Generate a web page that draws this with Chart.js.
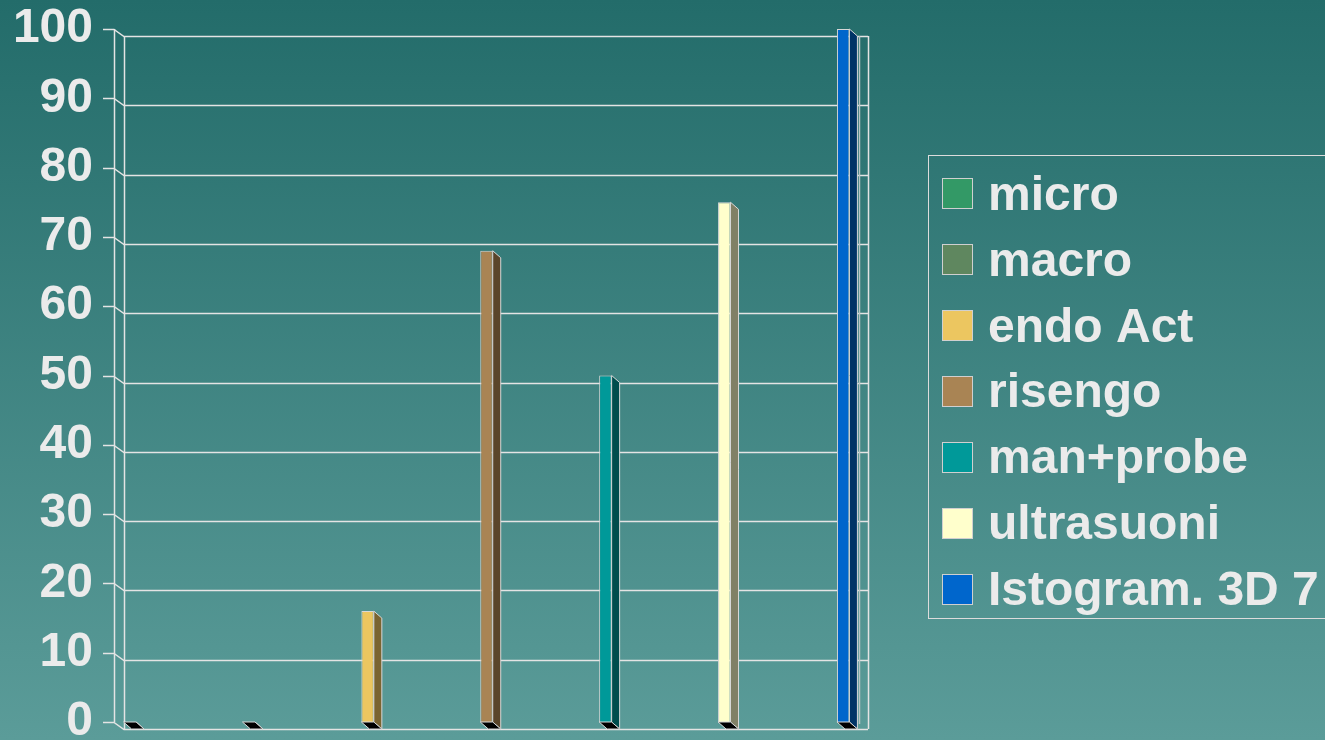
<!DOCTYPE html>
<html>
<head>
<meta charset="utf-8">
<script src="https://cdn.jsdelivr.net/npm/chart.js@4"></script>
<style>
  html, body { margin: 0; padding: 0; overflow: hidden; }
  body { width: 1325px; height: 740px; background: linear-gradient(#236c6a, #5b9c99); }
  canvas { display: block; }
</style>
</head>
<body>
<canvas id="chart" width="1325" height="740"></canvas>
<script>
// series (one bar each, Excel style 3D columns)
let seriesNames = ["micro", "macro", "endo Act", "risengo", "man+probe", "ultrasuoni", "Istogram. 3D 7"];
let seriesValues = [0, 0, 16, 68, 50, 75, 100];
let frontColors = ["#339966", "#5f875f", "#ecc660", "#a98454", "#009999", "#ffffcc", "#0066cc"];
let sideColors = ["#1a4d33", "#304430", "#7a6431", "#5a452a", "#004d4d", "#808066", "#003366"];
let categories = seriesNames;
let yTicks = { min: 0, max: 100, step: 10 };

const lineCol = "#e4e4e4";
const depthX = 8, depthY = 7;   // bar depth
const wallX = 10, wallY = 7;    // back wall offset

// each series only has a value in its own category
const datasets = seriesNames.map((name, i) => ({
  label: name,
  data: categories.map((c, j) => (i === j ? seriesValues[i] : null)),
  backgroundColor: frontColors[i],
  borderColor: "#d8d8d8",
  borderWidth: 1,
  sideColor: sideColors[i]
}));

// walls + gridlines behind bars
const walls = {
  id: "walls",
  beforeDatasetsDraw(chart) {
    const { ctx, chartArea: a, scales: { y } } = chart;
    ctx.save();
    ctx.strokeStyle = lineCol;
    ctx.lineWidth = 1.5;
    y.ticks.forEach(t => {
      const py = Math.round(y.getPixelForValue(t.value)) + 0.5;
      ctx.beginPath();
      ctx.moveTo(a.left - 11, py);
      ctx.lineTo(a.left, py);
      ctx.lineTo(a.left + wallX, py + wallY);
      ctx.lineTo(a.right + wallX - 1, py + wallY);
      ctx.stroke();
    });
    const top = y.getPixelForValue(yTicks.max), bot = y.getPixelForValue(yTicks.min);
    ctx.beginPath();
    ctx.moveTo(a.left + 0.5, top); ctx.lineTo(a.left + 0.5, bot);
    ctx.moveTo(a.left + wallX + 0.5, top + wallY); ctx.lineTo(a.left + wallX + 0.5, bot + wallY);
    ctx.moveTo(a.right + wallX - 0.5, top + wallY); ctx.lineTo(a.right + wallX - 0.5, bot + wallY);
    ctx.stroke();
    ctx.strokeStyle = "#b8c4c4";
    ctx.beginPath();
    ctx.moveTo(a.right + 0.5, top + wallY); ctx.lineTo(a.right + 0.5, bot + 2);
    ctx.stroke();
    ctx.restore();
  }
};

// side face and black floor of each column
const depth = {
  id: "depth",
  afterDatasetsDraw(chart) {
    const ctx = chart.ctx;
    ctx.save();
    ctx.lineWidth = 1;
    ctx.strokeStyle = "#d8d8d8";
    chart.data.datasets.forEach((ds, i) => {
      chart.getDatasetMeta(i).data.forEach((bar, j) => {
        if (ds.data[j] === null) return;
        const l = bar.x - bar.width / 2, r = bar.x + bar.width / 2;
        const t = bar.y, b = bar.base;
        ctx.fillStyle = ds.sideColor;
        ctx.beginPath();
        ctx.moveTo(r, t); ctx.lineTo(r + depthX, t + depthY);
        ctx.lineTo(r + depthX, b + depthY); ctx.lineTo(r, b);
        ctx.closePath(); ctx.fill(); ctx.stroke();
        ctx.fillStyle = "#000";
        ctx.beginPath();
        ctx.moveTo(l, b); ctx.lineTo(r, b);
        ctx.lineTo(r + depthX, b + depthY); ctx.lineTo(l + depthX, b + depthY);
        ctx.closePath(); ctx.fill(); ctx.stroke();
      });
    });
    ctx.restore();
  }
};

// boxed legend on the right, runs off the edge like the original
const boxLegend = {
  id: "boxLegend",
  afterDraw(chart) {
    const ctx = chart.ctx;
    ctx.save();
    ctx.strokeStyle = "#dcdcdc";
    ctx.lineWidth = 1;
    ctx.strokeRect(928.5, 155.5, 500, 463);
    ctx.font = "bold 48px 'Liberation Sans', Arial, sans-serif";
    ctx.textBaseline = "alphabetic";
    chart.data.datasets.forEach((ds, i) => {
      const top = 178 + i * 66;
      ctx.fillStyle = ds.backgroundColor;
      ctx.fillRect(942, top, 31, 31);
      ctx.strokeStyle = "#d0d0d0";
      ctx.strokeRect(942.5, top + 0.5, 30, 30);
      ctx.fillStyle = "#ebebeb";
      ctx.fillText(ds.label, 988, 210 + i * 65.8);
    });
    ctx.restore();
  }
};

new Chart(document.getElementById("chart"), {
  type: "bar",
  data: { labels: categories, datasets: datasets },
  options: {
    responsive: false,
    animation: false,
    layout: { padding: { left: 0, top: 29, right: 466, bottom: 18 } },
    plugins: { legend: { display: false }, tooltip: { enabled: false } },
    datasets: { bar: { categoryPercentage: 0.82, barPercentage: 1 } },
    scales: {
      x: { display: false },
      y: {
        min: yTicks.min,
        max: yTicks.max,
        afterFit: s => { s.width = 114; s.paddingTop = 0; s.paddingBottom = 0; },
        grid: { display: false },
        border: { display: false },
        ticks: {
          stepSize: yTicks.step,
          padding: 13,
          color: "#ebebeb",
          font: { family: "'Liberation Sans', Arial, sans-serif", size: 48, weight: "bold" }
        }
      }
    }
  },
  plugins: [walls, depth, boxLegend]
});
</script>
</body>
</html>
